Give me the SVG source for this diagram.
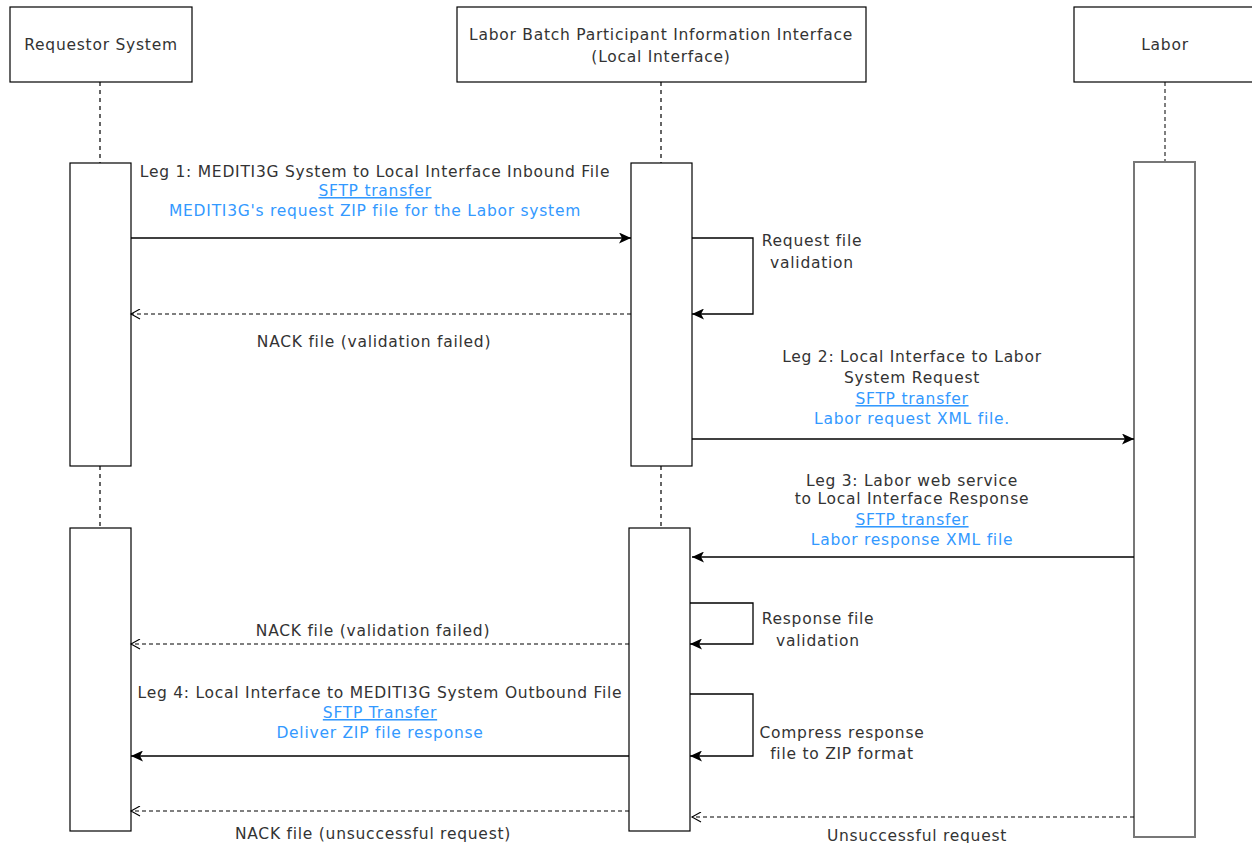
<svg xmlns="http://www.w3.org/2000/svg" width="1252" height="843" viewBox="0 0 1252 843">
<style>
text{font-family:"DejaVu Sans",Verdana,sans-serif;font-size:15.5px;letter-spacing:0.75px;fill:#333;text-anchor:middle}
.b{fill:#3399ff}
.u{fill:#3399ff;text-decoration:underline}
.box{fill:#fff;stroke:#000;stroke-width:1.2}
.act{fill:#fff;stroke:#000;stroke-width:1.2}
.actg{fill:#fff;stroke:#777;stroke-width:2}
.life{stroke:#000;stroke-width:1.2;stroke-dasharray:4 4;fill:none}
.lifeg{stroke:#555;stroke-width:1.5;stroke-dasharray:4 3;fill:none}
.m{stroke:#000;stroke-width:1.3;fill:none;marker-end:url(#block)}
.d{stroke:#000;stroke-width:1.1;stroke-dasharray:4 3;fill:none;marker-end:url(#open)}
</style>
<defs>
<marker id="block" markerWidth="13" markerHeight="11" refX="12" refY="5.5" orient="auto" markerUnits="userSpaceOnUse"><path d="M0,0 L12,5.5 L0,11 L3,5.5 Z" fill="#000"/></marker>
<marker id="open" markerWidth="12" markerHeight="11" refX="10" refY="5.5" orient="auto" markerUnits="userSpaceOnUse"><path d="M1,0.5 L10,5.5 L1,10.5" fill="none" stroke="#000" stroke-width="1.1"/></marker>
</defs>
<g id="lifelines">
<line class="life" x1="100" y1="82" x2="100" y2="163"/>
<line class="life" x1="100" y1="466" x2="100" y2="528"/>
<line class="life" x1="661" y1="82" x2="661" y2="163"/>
<line class="life" x1="661" y1="466" x2="661" y2="528"/>
<line class="lifeg" x1="1165" y1="82" x2="1165" y2="162"/>
</g>
<g id="requestor"><rect class="box" x="10" y="7" width="182" height="75"/><text x="101" y="50">Requestor System</text></g>
<g id="local"><rect class="box" x="457" y="7" width="409" height="75"/><text x="661" y="40">Labor Batch Participant Information Interface</text><text x="661" y="62">(Local Interface)</text></g>
<g id="labor"><rect class="box" x="1074" y="7" width="190" height="75"/><text x="1165" y="50">Labor</text></g>
<g id="act-req-1"><rect class="act" x="70" y="163" width="61" height="303"/></g>
<g id="act-req-2"><rect class="act" x="70" y="528" width="61" height="303"/></g>
<g id="act-loc-1"><rect class="act" x="631" y="163" width="61" height="303"/></g>
<g id="act-loc-2"><rect class="act" x="629" y="528" width="61" height="303"/></g>
<g id="act-labor"><rect class="actg" x="1134" y="162" width="61" height="675"/></g>
<g id="connectors">
<line class="m" x1="131" y1="238" x2="631" y2="238"/>
<path class="m" d="M692,238 H753 V314 H692"/>
<line class="d" x1="631" y1="314" x2="131" y2="314"/>
<line class="m" x1="692" y1="439" x2="1134" y2="439"/>
<line class="m" x1="1134" y1="557" x2="692" y2="557"/>
<path class="m" d="M690,603 H753 V644 H690"/>
<line class="d" x1="629" y1="644" x2="131" y2="644"/>
<path class="m" d="M690,694 H753 V756 H690"/>
<line class="m" x1="629" y1="756" x2="131" y2="756"/>
<line class="d" x1="629" y1="811" x2="131" y2="811"/>
<line class="d" x1="1134" y1="817" x2="692" y2="817"/>
</g>
<g id="labels">
<text x="375" y="177">Leg 1: MEDITI3G System to Local Interface Inbound File</text>
<text class="u" x="375" y="196">SFTP transfer</text>
<text class="b" x="375" y="216">MEDITI3G's request ZIP file for the Labor system</text>
<text x="812" y="246">Request file</text>
<text x="812" y="268">validation</text>
<text x="374" y="347">NACK file (validation failed)</text>
<text x="912" y="362">Leg 2: Local Interface to Labor</text>
<text x="912" y="383">System Request</text>
<text class="u" x="912" y="404">SFTP transfer</text>
<text class="b" x="912" y="424">Labor request XML file.</text>
<text x="912" y="486">Leg 3: Labor web service</text>
<text x="912" y="504">to Local Interface Response</text>
<text class="u" x="912" y="525">SFTP transfer</text>
<text class="b" x="912" y="545">Labor response XML file</text>
<text x="818" y="624">Response file</text>
<text x="818" y="646">validation</text>
<text x="373" y="636">NACK file (validation failed)</text>
<text x="842" y="738">Compress response</text>
<text x="842" y="759">file to ZIP format</text>
<text x="380" y="698">Leg 4: Local Interface to MEDITI3G System Outbound File</text>
<text class="u" x="380" y="718">SFTP Transfer</text>
<text class="b" x="380" y="738">Deliver ZIP file response</text>
<text x="373" y="839">NACK file (unsuccessful request)</text>
<text x="917" y="841">Unsuccessful request</text>
</g>
</svg>
